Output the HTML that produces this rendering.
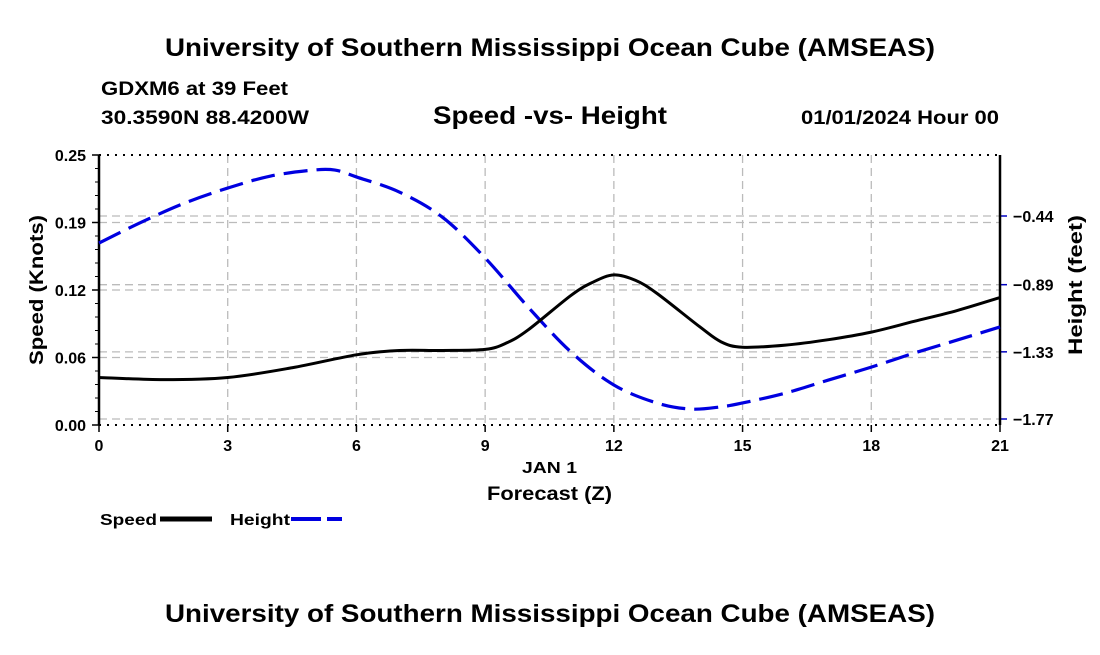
<!DOCTYPE html>
<html><head><meta charset="utf-8"><style>
body{margin:0;background:#fff;}
svg text{font-family:"Liberation Sans",sans-serif;font-weight:bold;fill:#000;}
</style></head><body>
<svg id="c" width="1100" height="650" xmlns="http://www.w3.org/2000/svg">
<text x="165" y="56" font-size="25" textLength="770" lengthAdjust="spacingAndGlyphs">University of Southern Mississippi Ocean Cube (AMSEAS)</text>
<text x="101" y="95" font-size="19" textLength="187" lengthAdjust="spacingAndGlyphs">GDXM6 at 39 Feet</text>
<text x="101" y="124" font-size="19" textLength="208" lengthAdjust="spacingAndGlyphs">30.3590N  88.4200W</text>
<text x="433" y="124" font-size="25" textLength="234" lengthAdjust="spacingAndGlyphs">Speed -vs- Height</text>
<text x="801" y="124" font-size="19" textLength="198" lengthAdjust="spacingAndGlyphs">01/01/2024 Hour 00</text>
<text x="165" y="622" font-size="25" textLength="770" lengthAdjust="spacingAndGlyphs">University of Southern Mississippi Ocean Cube (AMSEAS)</text>
<g id="grid"></g>
<g id="axes"></g>
<g id="series"></g>
<text x="522" y="473" font-size="16" textLength="55" lengthAdjust="spacingAndGlyphs">JAN 1</text>
<text x="487" y="500" font-size="19" textLength="125" lengthAdjust="spacingAndGlyphs">Forecast (Z)</text>
<text transform="translate(43,290) rotate(-90)" font-size="19" text-anchor="middle" textLength="150" lengthAdjust="spacingAndGlyphs">Speed (Knots)</text>
<text transform="translate(1082,285) rotate(-90)" font-size="19" text-anchor="middle" textLength="140" lengthAdjust="spacingAndGlyphs">Height (feet)</text>
<g>
<text x="100" y="525" font-size="16" textLength="57" lengthAdjust="spacingAndGlyphs">Speed</text>
<line x1="160" y1="519" x2="212" y2="519" stroke="#000" stroke-width="5"/>
<text x="230" y="525" font-size="16" textLength="60" lengthAdjust="spacingAndGlyphs">Height</text>
<line x1="291" y1="519" x2="342" y2="519" stroke="#0000e0" stroke-width="4" stroke-dasharray="30,6"/>
</g>
</svg>
<script>
const hours=[0,1.5,3,4.5,6,7,8,9,9.5,10,11,11.5,12,12.5,13,14,14.5,15,16,17,18,19,20,21];
const speed=[0.044,0.042,0.044,0.053,0.065,0.069,0.069,0.070,0.076,0.088,0.120,0.132,0.139,0.134,0.122,0.091,0.077,0.072,0.074,0.079,0.086,0.096,0.106,0.118];
const hHours=[0,1,2,3,4,5,5.5,6,7,8,9,10,11,12,13,13.8,14.5,15,16,17,18,19,20,21];
const height=[-0.617,-0.479,-0.355,-0.257,-0.178,-0.139,-0.139,-0.184,-0.283,-0.447,-0.715,-1.036,-1.331,-1.547,-1.665,-1.705,-1.69,-1.665,-1.6,-1.515,-1.43,-1.338,-1.253,-1.167];
const xTicks=[0,3,6,9,12,15,18,21];
const yTicks=[0,0.0625,0.125,0.1875,0.25];
const yTickLabels=["0.00","0.06","0.12","0.19","0.25"];
const y2Ticks=[-0.44,-0.89,-1.33,-1.77];
const y2TickLabels=["\u22120.44","\u22120.89","\u22121.33","\u22121.77"];
const L=99,R=1000,T=155,B=425;
const X=h=>L+(h/21)*(R-L);
const Y=v=>B-(v/0.25)*(B-T);
const Y2=v=>216+(-0.44-v)*(419-216)/1.33;
const NS="http://www.w3.org/2000/svg";
function mk(tag,attrs,parent){const e=document.createElementNS(NS,tag);for(const k in attrs)e.setAttribute(k,attrs[k]);parent.appendChild(e);return e;}
const grid=document.getElementById('grid'),axes=document.getElementById('axes'),ser=document.getElementById('series');
xTicks.forEach(t=>{
  if(t>0&&t<21){const g=mk('line',{x1:X(t),x2:X(t),y1:T,y2:B,stroke:'#bbb','stroke-width':1.3,'stroke-dasharray':'8,5'},grid);
  
  }
  const tk=mk('line',{x1:X(t),x2:X(t),y1:B,y2:B+7,stroke:'#000','stroke-width':1.5},axes);
  
  
  const lb=mk('text',{x:X(t),y:B+26,'font-size':16,'text-anchor':'middle'},axes);lb.textContent=t;
  
  
});
yTicks.forEach((t,i)=>{
  if(i>0&&i<yTicks.length-1){const g=mk('line',{x1:L,x2:R,y1:Y(t),y2:Y(t),stroke:'#bbb','stroke-width':1.3,'stroke-dasharray':'8,5'},grid);
  
  }
  const tk=mk('line',{x1:L-7,x2:L,y1:Y(t),y2:Y(t),stroke:'#000','stroke-width':1.5},axes);
  
  
  const lb=mk('text',{x:L-13,y:Y(t)+6,'font-size':16,'text-anchor':'end'},axes);lb.textContent=yTickLabels[i];
  
  
});
y2Ticks.forEach((t,i)=>{
  const g=mk('line',{x1:L,x2:R,y1:Y2(t),y2:Y2(t),stroke:'#bbb','stroke-width':1.3,'stroke-dasharray':'8,5'},grid);
  
  
  const tk=mk('line',{x1:R,x2:R+7,y1:Y2(t),y2:Y2(t),stroke:'#0000c0','stroke-width':1.5},axes);
  
  
  const lb=mk('text',{x:R+13,y:Y2(t)+6,'font-size':16},axes);lb.textContent=y2TickLabels[i];
  
  
});
for(let v=0;v<=0.25001;v+=0.0125){const m=mk('line',{x1:L-4,x2:L,y1:Y(v),y2:Y(v),stroke:'#000','stroke-width':1},axes);
  
  }
[T,B].forEach(y=>{const d=mk('line',{x1:L,x2:R,y1:y,y2:y,stroke:'#000','stroke-width':2,'stroke-dasharray':'2,6'},axes);
  
  });
[L,R].forEach(x=>{const a=mk('line',{x1:x,x2:x,y1:T,y2:B,stroke:'#000','stroke-width':2.5},axes);
  
  });
function smooth(pts){let d=`M${pts[0][0]},${pts[0][1]}`;for(let i=0;i<pts.length-1;i++){const p0=pts[i-1]||pts[i],p1=pts[i],p2=pts[i+1],p3=pts[i+2]||p2;
  d+=` C${p1[0]+(p2[0]-p0[0])/6},${p1[1]+(p2[1]-p0[1])/6} ${p2[0]-(p3[0]-p1[0])/6},${p2[1]-(p3[1]-p1[1])/6} ${p2[0]},${p2[1]}`;}return d;}
const hp=mk('path',{d:smooth(hHours.map((h,i)=>[X(h),Y2(height[i])])),fill:'none',stroke:'#0000e0','stroke-width':3.2,'stroke-dasharray':'24,9'},ser);


const sp=mk('path',{d:smooth(hours.map((h,i)=>[X(h),Y(speed[i])])),fill:'none',stroke:'#000','stroke-width':3},ser);


</script>
</body></html>
